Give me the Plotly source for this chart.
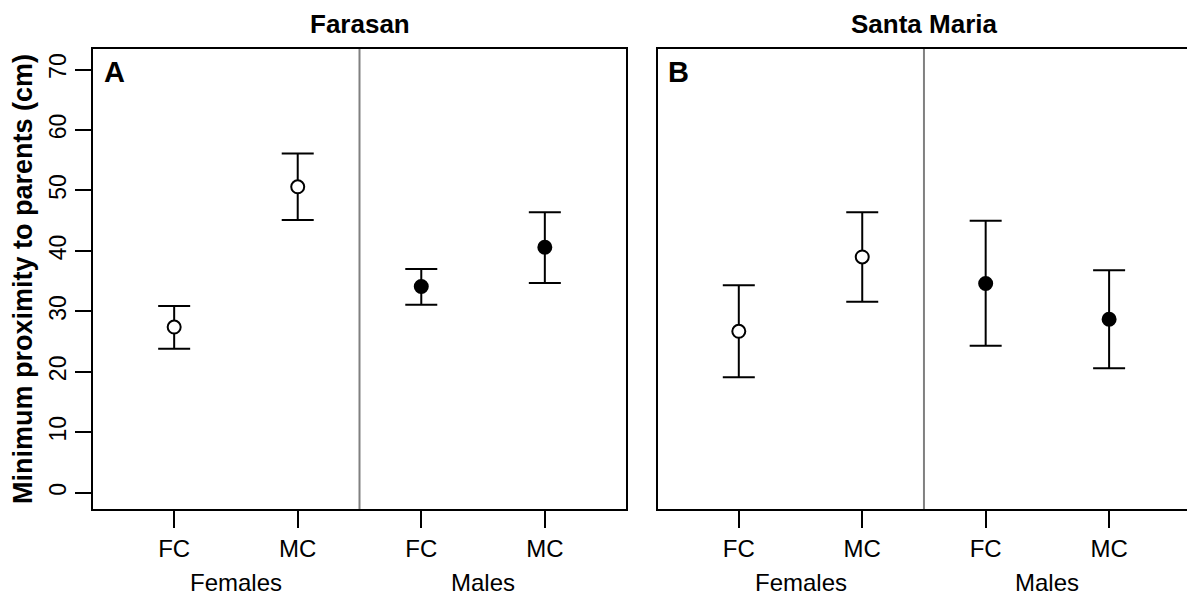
import plotly.graph_objects as go

# ---- data ----
tick_labels = ["FC", "MC", "FC", "MC"]
groups = ["Females", "Males"]
x_pos = [1, 2, 3, 4]

farasan_mean = [27.4, 50.6, 34.1, 40.6]
farasan_upper = [30.9, 56.1, 37.0, 46.4]
farasan_lower = [23.8, 45.1, 31.1, 34.7]

santa_mean = [26.7, 39.0, 34.6, 28.7]
santa_upper = [34.3, 46.4, 45.0, 36.8]
santa_lower = [19.1, 31.6, 24.3, 20.6]

panel_titles = ["Farasan", "Santa Maria"]
panel_letters = ["A", "B"]
y_title = "Minimum proximity to parents (cm)"

FONT = "Liberation Sans, Arial, Helvetica, sans-serif"

W, H = 1187, 596
ml, mr, mt, mb = 93, 0, 49, 87
pw = W - ml - mr
ph = H - mt - mb
dA = [0, (626 - ml) / pw]
dB = [(657.7 - ml) / pw, 1]

fig = go.Figure()

def add_panel(means, uppers, lowers, xa, ya):
    plus = [u - m for u, m in zip(uppers, means)]
    minus = [m - l for m, l in zip(means, lowers)]
    # females: open circles (first two), males: filled (last two)
    for idx, fill in [((0, 1), "white"), ((2, 3), "black")]:
        fig.add_trace(go.Scatter(
            x=[x_pos[i] for i in idx],
            y=[means[i] for i in idx],
            mode="markers",
            marker=dict(symbol="circle", size=13, color=fill,
                        line=dict(color="black", width=2)),
            error_y=dict(type="data", symmetric=False,
                         array=[plus[i] for i in idx],
                         arrayminus=[minus[i] for i in idx],
                         color="black", thickness=2, width=16),
            xaxis=xa, yaxis=ya, showlegend=False, hoverinfo="skip",
        ))

add_panel(farasan_mean, farasan_upper, farasan_lower, "x", "y")
add_panel(santa_mean, santa_upper, santa_lower, "x2", "y2")

yrange = [-2.7, 73.4]
ax_common = dict(
    tickvals=x_pos, ticktext=tick_labels, ticks="outside", ticklen=17,
    tickwidth=2, tickcolor="black", showline=True, linecolor="black",
    linewidth=2, showgrid=False, zeroline=False, automargin=False,
    tickfont=dict(family=FONT, size=24, color="black"),
    ticklabelstandoff=0, mirror=True,
)
fig.update_layout(
    width=W, height=H,
    margin=dict(l=ml, r=mr, t=mt, b=mb, autoexpand=False),
    plot_bgcolor="white", paper_bgcolor="white",
    xaxis=dict(domain=dA, range=[0.343, 4.657], anchor="y", **ax_common),
    # panel B uses the same scale as panel A; its right border falls off the image
    xaxis2=dict(domain=dB, range=[0.343, 1 + (W - 739.3) / 123.3], anchor="y2", **ax_common),
    yaxis=dict(domain=[0, 1], range=yrange, tickvals=[0, 10, 20, 30, 40, 50, 60, 70],
               ticks="outside", ticklen=16, tickwidth=2, tickcolor="black",
               tickangle=-90, showline=True, linecolor="black", linewidth=2,
               mirror=True, showgrid=False, zeroline=False, anchor="x",
               automargin=False,
               tickfont=dict(family=FONT, size=23, color="black"),
               ticklabelstandoff=0,
               title=dict(text="<b>" + y_title + "</b>",
                          font=dict(family=FONT, size=27, color="black"),
                          standoff=4)),
    yaxis2=dict(domain=[0, 1], range=yrange, showticklabels=False, ticks="",
                showline=True, linecolor="black", linewidth=2, mirror=False,
                showgrid=False, zeroline=False, anchor="x2", automargin=False),
)

# divider lines
for xr, yr in [("x", "y domain"), ("x2", "y2 domain")]:
    fig.add_shape(type="line", xref=xr, yref=yr, x0=2.5, x1=2.5, y0=0, y1=1,
                  line=dict(color="#808080", width=2))

# group labels
for xr in ["x", "x2"]:
    for g, xc in zip(groups, [1.5, 3.5]):
        fig.add_annotation(text=g, xref=xr, yref="paper", x=xc,
                           y=-(582 - (H - mb)) / ph,
                           yanchor="middle", showarrow=False,
                           font=dict(family=FONT, size=24, color="black"))

# panel titles
for t, xc in zip(panel_titles, [359.7, 924]):
    fig.add_annotation(text="<b>" + t + "</b>", xref="paper", yref="paper",
                       x=(xc - ml) / pw, y=1 + (mt - 24) / ph,
                       xanchor="center", yanchor="middle", showarrow=False,
                       font=dict(family=FONT, size=26, color="black"))

# panel letters
for L, xr in zip(panel_letters, ["x domain", "x2 domain"]):
    fig.add_annotation(text="<b>" + L + "</b>", xref=xr, yref="paper",
                       x=0.016, y=(H - mb - 72) / ph,
                       xanchor="left", yanchor="middle", showarrow=False,
                       font=dict(family=FONT, size=29, color="black"))

fig.write_html("out.html",
               config={"displayModeBar": False},
               post_script="document.body.style.margin='0px';document.body.style.padding='0px';document.body.style.overflow='hidden';")
